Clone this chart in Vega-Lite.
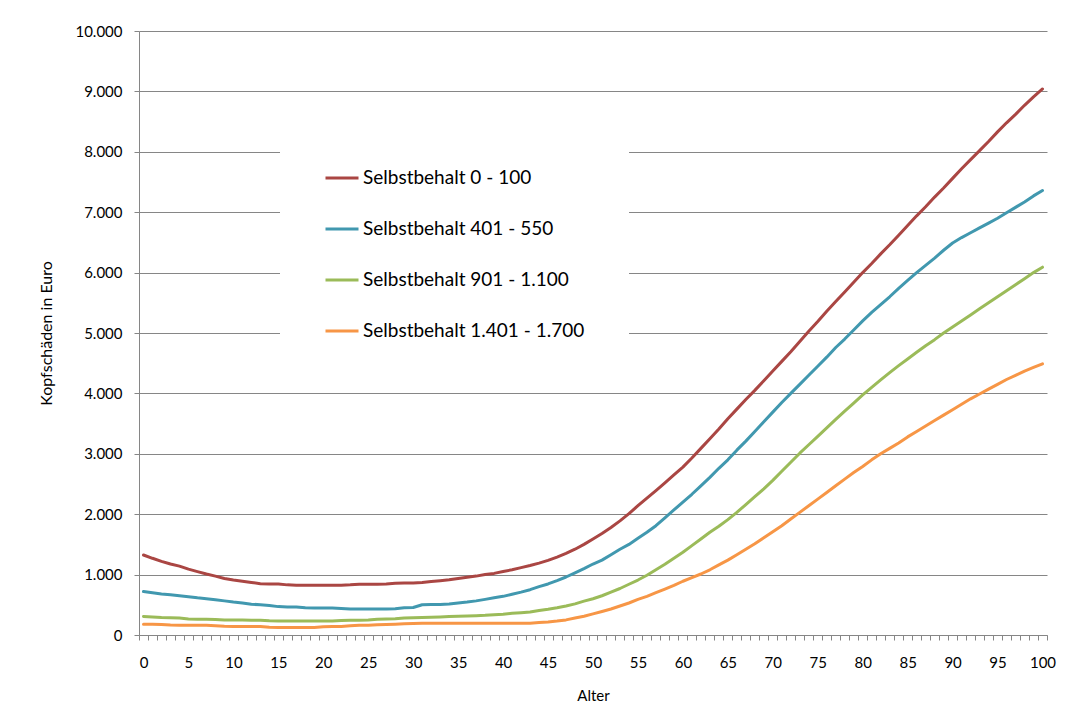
{
  "$schema": "https://vega.github.io/schema/vega-lite/v6.json",
  "width": 908,
  "height": 604,
  "autosize": {"type": "none"},
  "padding": {"left": 139, "top": 31, "right": 24, "bottom": 89},
  "background": "white",
  "config": {
    "font": "Lato",
    "view": {"stroke": null},
    "axis": {"labelColor": "black", "titleColor": "black", "labelFont": "Lato", "titleFont": "Lato", "titleFontWeight": "normal"}
  },
  "data": {
    "values": [
      {"age":0,"a":1325,"b":720,"c":305,"d":180},
      {"age":1,"a":1270,"b":700,"c":300,"d":180},
      {"age":2,"a":1220,"b":680,"c":290,"d":175},
      {"age":3,"a":1175,"b":665,"c":285,"d":165},
      {"age":4,"a":1140,"b":650,"c":280,"d":160},
      {"age":5,"a":1090,"b":635,"c":265,"d":160},
      {"age":6,"a":1050,"b":615,"c":260,"d":160},
      {"age":7,"a":1010,"b":600,"c":260,"d":160},
      {"age":8,"a":975,"b":585,"c":255,"d":155},
      {"age":9,"a":935,"b":565,"c":250,"d":145},
      {"age":10,"a":910,"b":545,"c":250,"d":140},
      {"age":11,"a":890,"b":530,"c":250,"d":140},
      {"age":12,"a":870,"b":510,"c":245,"d":140},
      {"age":13,"a":850,"b":500,"c":245,"d":140},
      {"age":14,"a":845,"b":490,"c":235,"d":130},
      {"age":15,"a":845,"b":470,"c":230,"d":125},
      {"age":16,"a":830,"b":465,"c":230,"d":125},
      {"age":17,"a":825,"b":465,"c":230,"d":125},
      {"age":18,"a":825,"b":450,"c":230,"d":125},
      {"age":19,"a":825,"b":445,"c":230,"d":125},
      {"age":20,"a":825,"b":445,"c":230,"d":135},
      {"age":21,"a":825,"b":445,"c":230,"d":140},
      {"age":22,"a":825,"b":440,"c":240,"d":140},
      {"age":23,"a":830,"b":430,"c":245,"d":155},
      {"age":24,"a":840,"b":430,"c":245,"d":160},
      {"age":25,"a":840,"b":430,"c":250,"d":160},
      {"age":26,"a":840,"b":430,"c":260,"d":170},
      {"age":27,"a":845,"b":430,"c":265,"d":175},
      {"age":28,"a":855,"b":435,"c":270,"d":180},
      {"age":29,"a":860,"b":450,"c":280,"d":185},
      {"age":30,"a":860,"b":455,"c":285,"d":190},
      {"age":31,"a":870,"b":500,"c":290,"d":195},
      {"age":32,"a":885,"b":505,"c":295,"d":195},
      {"age":33,"a":900,"b":505,"c":300,"d":195},
      {"age":34,"a":915,"b":515,"c":305,"d":195},
      {"age":35,"a":935,"b":530,"c":310,"d":195},
      {"age":36,"a":955,"b":545,"c":315,"d":195},
      {"age":37,"a":975,"b":565,"c":320,"d":195},
      {"age":38,"a":1000,"b":590,"c":325,"d":195},
      {"age":39,"a":1020,"b":615,"c":335,"d":195},
      {"age":40,"a":1050,"b":640,"c":345,"d":195},
      {"age":41,"a":1080,"b":675,"c":360,"d":195},
      {"age":42,"a":1115,"b":710,"c":370,"d":195},
      {"age":43,"a":1150,"b":750,"c":380,"d":195},
      {"age":44,"a":1190,"b":800,"c":405,"d":205},
      {"age":45,"a":1235,"b":845,"c":425,"d":215},
      {"age":46,"a":1290,"b":900,"c":450,"d":230},
      {"age":47,"a":1350,"b":960,"c":480,"d":250},
      {"age":48,"a":1420,"b":1030,"c":515,"d":280},
      {"age":49,"a":1500,"b":1100,"c":560,"d":310},
      {"age":50,"a":1590,"b":1175,"c":600,"d":350},
      {"age":51,"a":1680,"b":1240,"c":650,"d":390},
      {"age":52,"a":1780,"b":1330,"c":710,"d":430},
      {"age":53,"a":1890,"b":1420,"c":770,"d":480},
      {"age":54,"a":2010,"b":1500,"c":840,"d":530},
      {"age":55,"a":2140,"b":1600,"c":910,"d":590},
      {"age":56,"a":2265,"b":1700,"c":990,"d":640},
      {"age":57,"a":2390,"b":1810,"c":1080,"d":700},
      {"age":58,"a":2520,"b":1940,"c":1170,"d":760},
      {"age":59,"a":2650,"b":2070,"c":1270,"d":820},
      {"age":60,"a":2780,"b":2200,"c":1370,"d":890},
      {"age":61,"a":2930,"b":2330,"c":1480,"d":950},
      {"age":62,"a":3090,"b":2470,"c":1590,"d":1010},
      {"age":63,"a":3250,"b":2610,"c":1700,"d":1080},
      {"age":64,"a":3410,"b":2760,"c":1800,"d":1160},
      {"age":65,"a":3580,"b":2900,"c":1910,"d":1240},
      {"age":66,"a":3740,"b":3060,"c":2030,"d":1330},
      {"age":67,"a":3900,"b":3210,"c":2160,"d":1420},
      {"age":68,"a":4050,"b":3370,"c":2290,"d":1510},
      {"age":69,"a":4210,"b":3530,"c":2420,"d":1610},
      {"age":70,"a":4370,"b":3690,"c":2560,"d":1710},
      {"age":71,"a":4530,"b":3850,"c":2710,"d":1810},
      {"age":72,"a":4690,"b":4000,"c":2860,"d":1920},
      {"age":73,"a":4860,"b":4150,"c":3010,"d":2030},
      {"age":74,"a":5030,"b":4300,"c":3150,"d":2140},
      {"age":75,"a":5190,"b":4450,"c":3290,"d":2250},
      {"age":76,"a":5360,"b":4600,"c":3430,"d":2360},
      {"age":77,"a":5520,"b":4760,"c":3570,"d":2470},
      {"age":78,"a":5680,"b":4900,"c":3705,"d":2580},
      {"age":79,"a":5840,"b":5050,"c":3840,"d":2690},
      {"age":80,"a":6000,"b":5200,"c":3975,"d":2790},
      {"age":81,"a":6150,"b":5340,"c":4100,"d":2900},
      {"age":82,"a":6310,"b":5470,"c":4225,"d":3000},
      {"age":83,"a":6460,"b":5600,"c":4345,"d":3090},
      {"age":84,"a":6620,"b":5740,"c":4460,"d":3180},
      {"age":85,"a":6780,"b":5870,"c":4570,"d":3280},
      {"age":86,"a":6940,"b":6000,"c":4680,"d":3370},
      {"age":87,"a":7090,"b":6120,"c":4790,"d":3460},
      {"age":88,"a":7250,"b":6240,"c":4890,"d":3550},
      {"age":89,"a":7400,"b":6370,"c":5000,"d":3640},
      {"age":90,"a":7560,"b":6490,"c":5100,"d":3730},
      {"age":91,"a":7720,"b":6580,"c":5200,"d":3820},
      {"age":92,"a":7870,"b":6660,"c":5300,"d":3910},
      {"age":93,"a":8020,"b":6740,"c":5400,"d":3990},
      {"age":94,"a":8170,"b":6820,"c":5500,"d":4070},
      {"age":95,"a":8330,"b":6900,"c":5600,"d":4150},
      {"age":96,"a":8480,"b":6990,"c":5700,"d":4230},
      {"age":97,"a":8620,"b":7080,"c":5800,"d":4300},
      {"age":98,"a":8770,"b":7170,"c":5900,"d":4370},
      {"age":99,"a":8910,"b":7270,"c":6000,"d":4430},
      {"age":100,"a":9040,"b":7360,"c":6090,"d":4490}
    ]
  },
  "transform": [{"fold": ["a", "b", "c", "d"], "as": ["serie", "wert"]}],
  "mark": {"type": "line", "strokeWidth": 3, "strokeJoin": "round", "strokeCap": "round"},
  "encoding": {
    "x": {
      "field": "age",
      "type": "ordinal",
      "scale": {"type": "band", "paddingInner": 0, "paddingOuter": 0},
      "axis": {
        "title": "Alter",
        "titleFontSize": 15,
        "titlePadding": 18,
        "labelFontSize": 15,
        "labelAngle": 0,
        "labelPadding": 15,
        "labelOverlap": false,
        "labelExpr": "datum.value % 5 === 0 ? datum.label : ''",
        "tickBand": "extent",
        "tickSize": 5,
        "tickColor": "#868686",
        "domainColor": "#868686",
        "grid": false
      }
    },
    "y": {
      "field": "wert",
      "type": "quantitative",
      "scale": {"domain": [0, 10000], "nice": false},
      "axis": {
        "title": "Kopfschäden in Euro",
        "titleFontSize": 16,
        "titlePadding": 20,
        "labelFontSize": 15,
        "labelPadding": 12,
        "values": [0, 1000, 2000, 3000, 4000, 5000, 6000, 7000, 8000, 9000, 10000],
        "labelExpr": "replace(format(datum.value, ',d'), ',', '.')",
        "tickSize": 5,
        "tickColor": "#868686",
        "domainColor": "#868686",
        "gridColor": "#868686",
        "gridWidth": 1
      }
    },
    "color": {
      "field": "serie",
      "type": "nominal",
      "scale": {"domain": ["a", "b", "c", "d"], "range": ["#AA4643", "#4198AF", "#9BBB59", "#F79646"]},
      "legend": {
        "title": null,
        "orient": "none",
        "legendX": 141,
        "legendY": 85,
        "fillColor": "white",
        "padding": 44,
        "symbolType": "stroke",
        "symbolSize": 1089,
        "symbolStrokeWidth": 3,
        "labelFont": "Lato",
        "labelFontSize": 19,
        "labelColor": "black",
        "labelOffset": 3,
        "rowPadding": 23,
        "labelLimit": 400,
        "labelExpr": "{'a':'Selbstbehalt 0 - 100','b':'Selbstbehalt 401 - 550','c':'Selbstbehalt 901 - 1.100','d':'Selbstbehalt 1.401 - 1.700'}[datum.value]"
      }
    }
  }
}
